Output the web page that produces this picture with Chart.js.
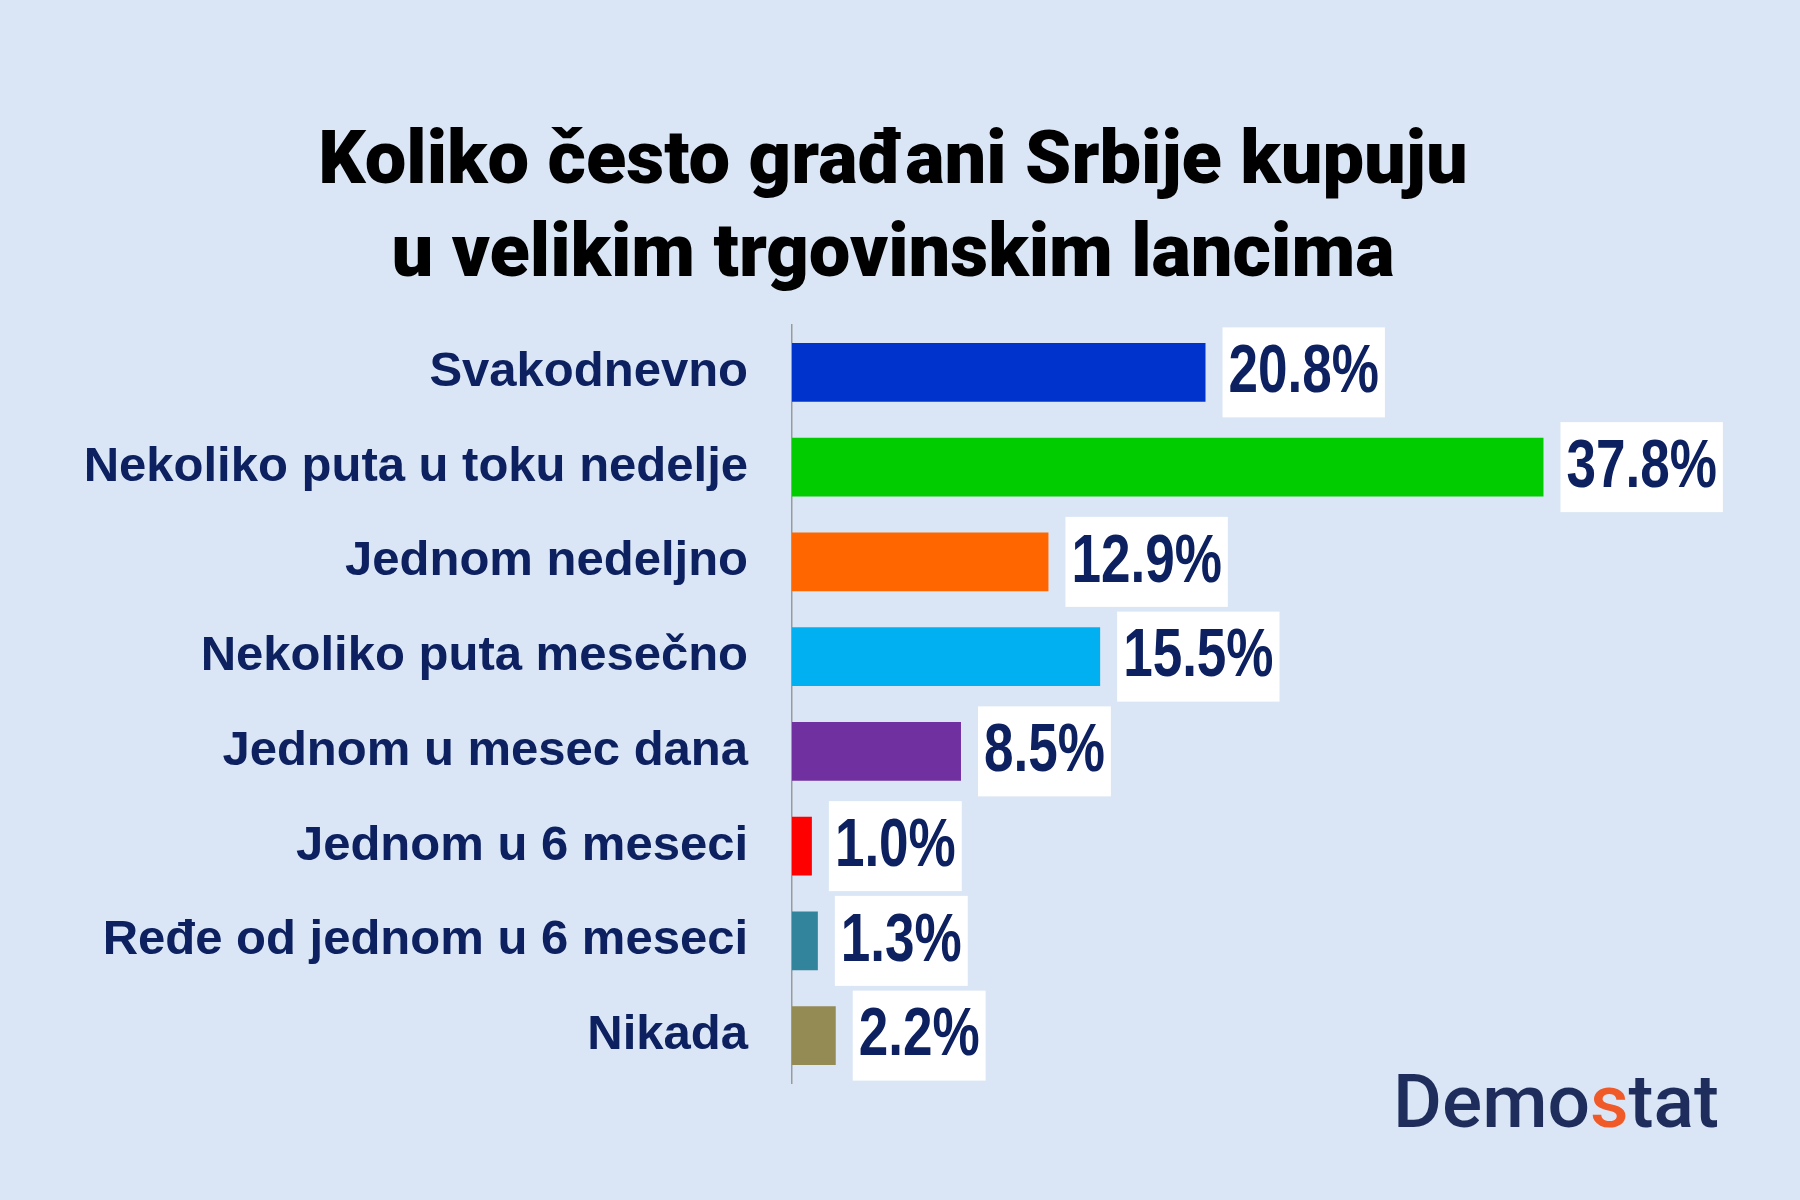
<!DOCTYPE html>
<html>
<head>
<meta charset="utf-8">
<script src="https://cdn.jsdelivr.net/npm/chart.js@4.4.1/dist/chart.umd.min.js"></script>
<style>
  html, body { margin: 0; padding: 0; background: #dae6f5; }
  #wrap { width: 1800px; height: 1200px; position: relative; }
</style>
</head>
<body>
<div id="wrap"><canvas id="c" width="1800" height="1200"></canvas></div>
<script>
const titleLines = ['Koliko često građani Srbije kupuju', 'u velikim trgovinskim lancima'];
const categories = [
  'Svakodnevno',
  'Nekoliko puta u toku nedelje',
  'Jednom nedeljno',
  'Nekoliko puta mesečno',
  'Jednom u mesec dana',
  'Jednom u 6 meseci',
  'Ređe od jednom u 6 meseci',
  'Nikada'
];
const values = [20.8, 37.8, 12.9, 15.5, 8.5, 1.0, 1.3, 2.2];
const barColors = ['#0033cc', '#00cc00', '#ff6600', '#00b0f0', '#7030a0', '#ff0000', '#31849b', '#948a54'];
const brandParts = [['Demo', '#1f2d5c'], ['s', '#f05a28'], ['tat', '#1f2d5c']];

const NAVY = '#0d2160';

const valueLabelPlugin = {
  id: 'valueLabels',
  afterDatasetsDraw(chart) {
    const ctx = chart.ctx;
    const meta = chart.getDatasetMeta(0);
    const sx = 0.78;
    ctx.save();
    ctx.font = 'bold 68px "Liberation Sans", Arial, sans-serif';
    meta.data.forEach((bar, i) => {
      const txt = values[i].toFixed(1) + '%';
      const tw = ctx.measureText(txt).width * sx;
      const pad = 6;
      const bx = bar.x + 17;
      const bh = 90;
      const by = bar.y - bh / 2;
      ctx.fillStyle = '#ffffff';
      ctx.fillRect(bx, by, tw + pad * 2, bh);
      ctx.save();
      ctx.translate(bx + pad, bar.y + 1);
      ctx.scale(sx, 1);
      ctx.fillStyle = NAVY;
      ctx.textAlign = 'left';
      ctx.textBaseline = 'middle';
      ctx.fillText(txt, 0, 0);
      ctx.restore();
    });
    ctx.restore();
  }
};

const brandPlugin = {
  id: 'brand',
  afterDraw(chart) {
    const ctx = chart.ctx;
    ctx.save();
    ctx.font = '500 75px Roboto, sans-serif';
    ctx.textBaseline = 'alphabetic';
    ctx.textAlign = 'left';
    let x = 1393;
    brandParts.forEach(([t, col]) => {
      ctx.fillStyle = col;
      ctx.fillText(t, x, 1127);
      x += ctx.measureText(t).width;
    });
    ctx.restore();
  }
};

const bgPlugin = {
  id: 'bg',
  beforeDraw(chart) {
    const ctx = chart.ctx;
    ctx.save();
    ctx.fillStyle = '#dae6f5';
    ctx.fillRect(0, 0, chart.width, chart.height);
    ctx.restore();
  }
};

new Chart(document.getElementById('c'), {
  type: 'bar',
  data: {
    labels: categories,
    datasets: [{
      data: values,
      backgroundColor: barColors,
      borderWidth: 0,
      barPercentage: 0.62,
      categoryPercentage: 1.0
    }]
  },
  options: {
    indexAxis: 'y',
    responsive: false,
    animation: false,
    devicePixelRatio: 1,
    layout: { padding: { left: 0, right: 14, top: 0, bottom: 117 } },
    plugins: {
      legend: { display: false },
      tooltip: { enabled: false },
      title: {
        display: true,
        text: titleLines,
        color: '#000000',
        font: { family: 'Roboto, "Noto Sans", sans-serif', size: 74, weight: '900', lineHeight: 93 / 74 },
        padding: { top: 118, bottom: 21 }
      }
    },
    scales: {
      x: {
        display: false,
        min: 0,
        max: 50
      },
      y: {
        grid: { display: false, drawTicks: false },
        border: { display: true, color: '#9a9a9a', width: 1.5 },
        ticks: {
          color: NAVY,
          padding: 44,
          font: { family: '"Liberation Sans", Arial, sans-serif', size: 49, weight: 'bold' }
        },
        afterFit(scale) { scale.width = 792; }
      }
    }
  },
  plugins: [bgPlugin, valueLabelPlugin, brandPlugin]
});
</script>
</body>
</html>
